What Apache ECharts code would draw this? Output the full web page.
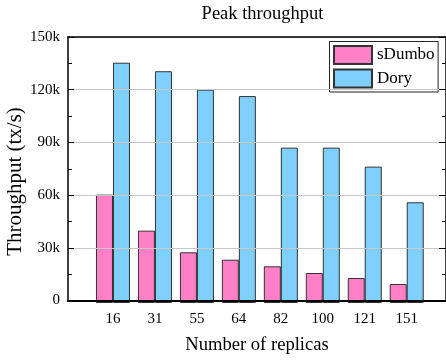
<!DOCTYPE html>
<html><head><meta charset="utf-8">
<script src="https://cdn.jsdelivr.net/npm/echarts@6/dist/echarts.min.js"></script>
<style>html,body{margin:0;padding:0;background:#fff}#c{width:446px;height:360px}</style>
</head><body><div id="c"></div>
<script>
const categories = ['16','31','55','64','82','100','121','151'];
const seriesNames = ['sDumbo','Dory'];
const sDumbo = [61100, 40800, 28600, 24400, 20700, 16900, 14100, 10700];
const dory = [135500, 130700, 120300, 116700, 87600, 87600, 76900, 56800];
const yTickLabels = ['0','30k','60k','90k','120k','150k'];
const yMax = 150000, yStep = 30000;

const FONT = 'Liberation Serif';
const chart = echarts.init(document.getElementById('c'), null, {renderer:'canvas'});
const plotTop = 37, plotH = 266;
chart.setOption({
  animation:false,
  backgroundColor:'#fff',
  title:{text:'Peak throughput', left:257.5, textAlign:'center', top:0, padding:5,
    textStyle:{fontFamily:FONT, fontSize:18.5, fontWeight:'normal', color:'#000'}},
  legend:{orient:'vertical', left:329.5, top:41.5, padding:3.5, itemGap:3.5,
    itemWidth:38, itemHeight:18, icon:'rect', backgroundColor:'#fff', borderColor:'#222', borderWidth:1,
    textStyle:{fontFamily:FONT, fontSize:17, lineHeight:18, color:'#000'}, data:seriesNames},
  grid:[
    {left:68, top:plotTop, width:379, height:plotH},
    {left:92, top:plotTop, width:335.7, height:plotH}
  ],
  xAxis:[
    {gridIndex:0, type:'value', min:0, max:1, position:'bottom', z:5,
      name:'Number of replicas', nameLocation:'middle', nameGap:35.5,
      nameTextStyle:{fontFamily:FONT, fontSize:18.6, color:'#000'},
      axisLine:{onZero:false, lineStyle:{color:'#000', width:2}}, axisTick:{show:false}, axisLabel:{show:false}, splitLine:{show:false}},
    {gridIndex:0, type:'value', min:0, max:1, position:'top', z:5,
      axisLine:{onZero:false, lineStyle:{color:'#000', width:1.5}}, axisTick:{show:false}, axisLabel:{show:false}, splitLine:{show:false}},
    {gridIndex:1, type:'category', data:categories, position:'bottom',
      axisLine:{show:false, onZero:false}, axisTick:{show:false},
      axisLabel:{margin:8.5, fontFamily:FONT, fontSize:15, color:'#000'}}
  ],
  yAxis:[
    {gridIndex:0, type:'value', min:0, max:yMax, interval:yStep, position:'left', z:5,
      axisLine:{show:true, onZero:false, lineStyle:{color:'#000', width:1.5}},
      axisTick:{show:true, inside:true, length:6, lineStyle:{color:'#000'}},
      minorTick:{show:true, splitNumber:2, length:4, lineStyle:{color:'#000'}},
      axisLabel:{margin:8, fontFamily:FONT, fontSize:15, color:'#000',
        formatter:(v)=>yTickLabels[Math.round(v/yStep)]},
      splitLine:{show:true, lineStyle:{color:'#c8c8c8', width:1}}},
    {gridIndex:0, type:'value', min:0, max:yMax, interval:yStep, position:'right', z:5,
      axisLine:{show:true, onZero:false, lineStyle:{color:'#000', width:1.5}},
      axisTick:{show:true, inside:true, length:7, lineStyle:{color:'#000'}},
      minorTick:{show:true, splitNumber:2, length:4, lineStyle:{color:'#000'}},
      axisLabel:{show:false}, splitLine:{show:false}},
    {gridIndex:1, type:'value', min:0, max:yMax, show:false}
  ],
  graphic:[{type:'text', x:15, y:181.5, rotation:Math.PI/2,
    style:{text:'Throughput (tx/s)', fontFamily:FONT, fontSize:21, fill:'#000', textAlign:'center', textVerticalAlign:'middle'}}],
  series:[
    {name:seriesNames[0], type:'bar', xAxisIndex:2, yAxisIndex:2, data:sDumbo, barWidth:17, barGap:'0%',
      itemStyle:{color:'#FF80C6', borderColor:'#333', borderWidth:1}},
    {name:seriesNames[1], type:'bar', xAxisIndex:2, yAxisIndex:2, data:dory, barWidth:17, barGap:'0%',
      itemStyle:{color:'#80D0FF', borderColor:'#333', borderWidth:1}}
  ]
});
</script></body></html>
